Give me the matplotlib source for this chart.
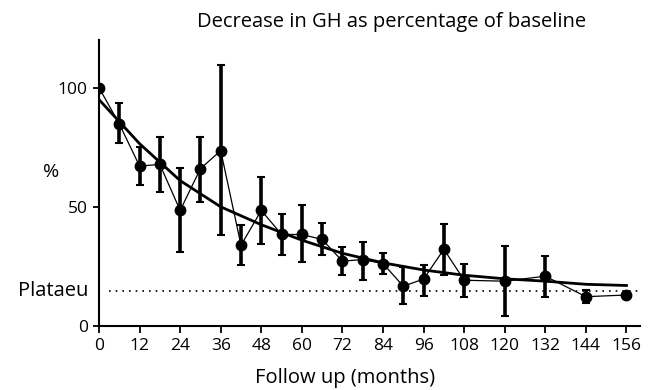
import matplotlib
matplotlib.use("Agg")
import matplotlib.pyplot as plt
import matplotlib.transforms as mtransforms

months = [0, 6, 12, 18, 24, 30, 36, 42, 48, 54, 60, 66, 72, 78, 84, 90, 96, 102, 108, 120, 132, 144, 156]
gh_pct = [100, 84.8, 67.1, 67.8, 48.5, 66, 73.6, 33.9, 48.5, 38.4, 38.4, 36.3, 27.2, 27.9, 26.2, 16.7, 19.7, 32.2, 19.2, 18.8, 20.9, 12.3, 13]
err_upper = [100, 93.5, 75, 79.2, 66.2, 79.5, 109.5, 42.3, 62.5, 46.9, 50.6, 43.2, 33, 35.3, 30.7, 24.8, 25.5, 43, 25.9, 33.5, 29.3, 15.1, 14.4]
err_lower = [100, 76.7, 59, 56.2, 31.1, 52, 38, 25.5, 34.6, 29.7, 26.9, 29.7, 21.2, 19.5, 21.8, 9.1, 12.7, 21.3, 12.3, 4.2, 12.3, 9.5, 11.6]

fit_months = [0, 12, 24, 36, 48, 60, 72, 84, 96, 108, 120, 132, 144, 156]
fit_pct = [95, 76.5, 61, 50, 42.5, 36, 30.5, 26.5, 23.5, 21.3, 19.8, 18.8, 17.5, 17]

plateau = 14.5
x_ticks = list(range(0, 157, 12))
y_ticks = [0, 50, 100]

title = "Decrease in GH as percentage of baseline"
xlabel = "Follow up (months)"
ylabel = "%"
plateau_label = "Plataeu"

plt.rcParams['font.family'] = ['Open Sans', 'DejaVu Sans']

fig = plt.figure(figsize=(6.61, 3.90), dpi=100)
ax = fig.add_axes([99/661, 1-326/390, (640-99)/661, (326-40)/390])

yerr = [[v - lo for v, lo in zip(gh_pct, err_lower)], [hi - v for v, hi in zip(gh_pct, err_upper)]]
ax.errorbar(months, gh_pct, yerr=yerr, fmt='none', ecolor='black', elinewidth=2.6,
            capsize=3, capthick=1.5, zorder=3)
ax.plot(months, gh_pct, color='black', lw=0.9, marker='o', markersize=7.5, zorder=4)
ax.plot(fit_months, fit_pct, color='black', lw=2.0, zorder=2)
ax.plot([3, 160], [plateau, plateau], color='black', lw=1.2, linestyle=(0, (1, 3)), zorder=1)

ax.set_xlim(0, 160)
ax.set_ylim(0, 120)
ax.set_xticks(x_ticks)
ax.set_yticks(y_ticks)
for s in ['top', 'right']:
    ax.spines[s].set_visible(False)
for s in ['left', 'bottom']:
    ax.spines[s].set_linewidth(1.5)
ax.tick_params(axis='x', direction='out', length=5, width=1.3, labelsize=12.5, pad=4)
ax.tick_params(axis='y', direction='out', length=4, width=1.3, labelsize=12.5, pad=4)

trans = mtransforms.blended_transform_factory(ax.transAxes, ax.transData)
ax.annotate(plateau_label, xy=(0, plateau), xycoords=trans, xytext=(-8, 0),
            textcoords='offset points', ha='right', va='center', fontsize=14.5)

fig.text(51/661, 1-172/390, ylabel, ha='center', va='center', fontsize=14)
fig.text(345/661, 1-378/390, xlabel, ha='center', va='center', fontsize=14.5)
fig.text(392/661, 1-22/390, title, ha='center', va='center', fontsize=14.5)

fig.savefig("out.png", dpi=100)
